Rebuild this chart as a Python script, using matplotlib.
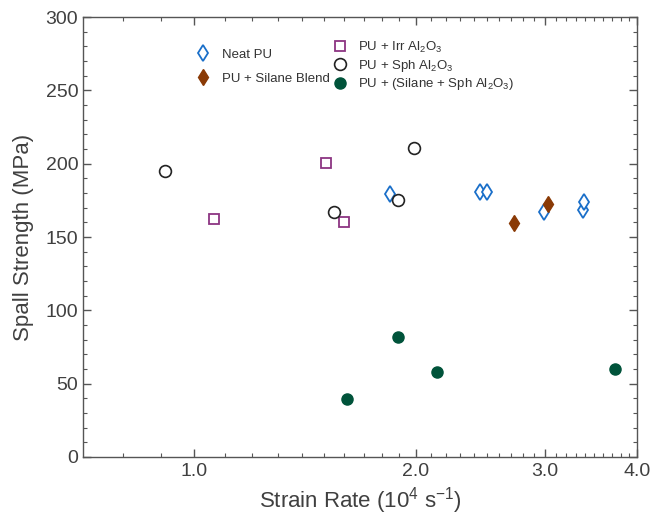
import matplotlib
matplotlib.use('Agg')
import matplotlib.pyplot as plt
from matplotlib.ticker import FixedLocator, MultipleLocator, NullFormatter
import numpy as np

plt.rcParams['font.family'] = ['Liberation Sans', 'DejaVu Sans']
plt.rcParams['mathtext.default'] = 'regular'

# strain rate (10^4 1/s), spall strength (MPa)
neat_x = [1.846, 2.443, 2.503, 2.988, 3.381, 3.391]
neat_y = [179.1, 180.5, 180.5, 167.2, 168.4, 174.1]

silane_x = [2.720, 3.029]
silane_y = [159.7, 172.5]

irr_x = [1.065, 1.511, 1.599]
irr_y = [162.0, 200.7, 160.4]

sph_x = [0.913, 1.551, 1.895, 1.992]
sph_y = [195.2, 167.2, 175.0, 210.5]

silsph_x = [1.615, 1.895, 2.141, 3.734]
silsph_y = [39.3, 82.0, 57.7, 60.2]

xticks = [1.0, 2.0, 3.0, 4.0]
xtick_labels = ['1.0', '2.0', '3.0', '4.0']

txt = '#404040'
fig = plt.figure(figsize=(6.51, 5.17), dpi=100)
ax = fig.add_axes([0.1275, 0.1161, 0.8510, 0.8509])

h1, = ax.plot(neat_x, neat_y, 'd', ms=8, mfc='white', mec='#1a6fc9', mew=1.3,
              ls='none', label='Neat PU')
h2, = ax.plot(silane_x, silane_y, 'd', ms=8, mfc='#8a3a06', mec='#8a3a06',
              ls='none', label='PU + Silane Blend')
h3, = ax.plot(irr_x, irr_y, 's', ms=6.5, mfc='white', mec='#8c3582', mew=1.3,
              ls='none', label='PU + Irr Al$_2$O$_3$')
h4, = ax.plot(sph_x, sph_y, 'o', ms=8.5, mfc='white', mec='#222222', mew=1.2,
              ls='none', label='PU + Sph Al$_2$O$_3$')
h5, = ax.plot(silsph_x, silsph_y, 'o', ms=8, mfc='#00533a', mec='#00533a',
              ls='none', label='PU + (Silane + Sph Al$_2$O$_3$)')

ax.set_xscale('log')
ax.set_xlim(0.706, 4.0)
ax.set_ylim(0, 300)
ax.xaxis.set_major_locator(FixedLocator(xticks))
ax.set_xticklabels(xtick_labels)
ax.xaxis.set_minor_locator(FixedLocator(np.arange(0.8, 4.0, 0.1)))
ax.xaxis.set_minor_formatter(NullFormatter())
ax.yaxis.set_major_locator(MultipleLocator(50))
ax.yaxis.set_minor_locator(MultipleLocator(10))

ax.tick_params(which='both', direction='in', top=True, right=True,
               color='#555555', labelcolor=txt, labelsize=14)
ax.tick_params(which='major', length=6, width=1)
ax.tick_params(which='minor', length=3, width=0.8)
ax.tick_params(axis='x', which='major', pad=4)
for s in ax.spines.values():
    s.set_color('#555555')
    s.set_linewidth(1)

ax.set_xlabel('Strain Rate (10$^4$ s$^{-1}$)', fontsize=16, color=txt, labelpad=4)
ax.set_ylabel('Spall Strength (MPa)', fontsize=16, color=txt, labelpad=8)

leg1 = ax.legend(handles=[h1, h2], loc='upper left', bbox_to_anchor=(0.18, 0.955),
                 frameon=False, fontsize=9.5, handletextpad=0.9, labelspacing=0.9,
                 handlelength=1.2, labelcolor='#333333')
ax.add_artist(leg1)
ax.legend(handles=[h3, h4, h5], loc='upper left', bbox_to_anchor=(0.428, 0.975),
          frameon=False, fontsize=9.5, handletextpad=0.75, labelspacing=0.2,
          handlelength=1.2, labelcolor='#333333')

fig.savefig('out.png', dpi=100)
